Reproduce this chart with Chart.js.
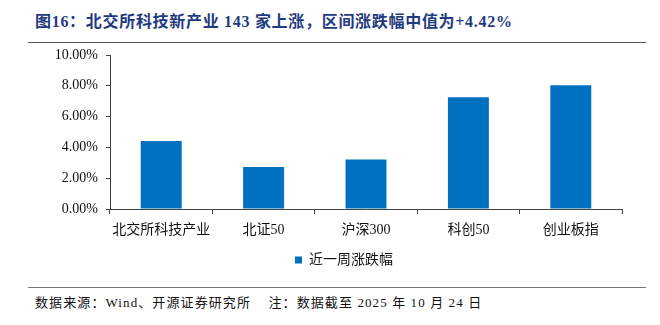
<!DOCTYPE html>
<html>
<head>
<meta charset="utf-8">
<script src="https://cdn.jsdelivr.net/npm/chart.js@4"></script>
<style>
  body { margin: 0; background: #fff; width: 660px; height: 325px; position: relative; overflow: hidden;
         font-family: "Liberation Serif", "Noto Sans CJK SC", serif; }
  #title { position: absolute; left: 35px; top: 8px; font-size: 16px; font-weight: bold; color: #1f3b80; white-space: nowrap; letter-spacing: 0.7px; }
  #topline { position: absolute; left: 28px; top: 42px; width: 618px; height: 1px; border-top: 1px solid #555; }
  #box { position: absolute; left: 0; top: 45px; width: 660px; height: 232px; }
  #botline { position: absolute; left: 28px; top: 287px; width: 618px; border-top: 1px solid #777; }
  #note { position: absolute; left: 35px; top: 292px; font-size: 13px; color: #111; white-space: nowrap; letter-spacing: 1.1px; }
</style>
</head>
<body>
<div id="title">图16：北交所科技新产业 143 家上涨，区间涨跌幅中值为+4.42%</div>
<div id="topline"></div>
<div id="box"><canvas id="chart"></canvas></div>
<div id="botline"></div>
<div id="note">数据来源：Wind、开源证券研究所&nbsp;&nbsp;&nbsp;&nbsp;注：数据截至 2025 年 10 月 24 日</div>
<script>
// 类别与数据
const categories = ['北交所科技产业', '北证50', '沪深300', '科创50', '创业板指'];
const weeklyChange = [4.42, 2.72, 3.22, 7.25, 8.04];
const yTicks = [0, 2, 4, 6, 8, 10];

const fontFamily = '"Liberation Serif", "Noto Sans CJK SC", serif';

// 图例中心稍微往右移，和原图一致
const legendShift = {
    id: 'legendShift',
    afterLayout(chart) {
        const lg = chart.legend;
        const dx = 344 - (lg.left + lg.right) / 2;
        lg.left += dx;
        lg.right += dx;
    }
};

const ctx = document.getElementById('chart').getContext('2d');
const chart = new Chart(ctx, {
    type: 'bar',
    data: {
        labels: categories,
        datasets: [{
            label: '近一周涨跌幅',
            data: weeklyChange,
            backgroundColor: '#0070c0',
            borderWidth: 0,
            categoryPercentage: 1,
            barPercentage: 0.4
        }]
    },
    options: {
        responsive: true,
        maintainAspectRatio: false,
        animation: false,
        layout: { padding: { top: 10, right: 38, left: 0, bottom: 0 } },
        scales: {
            x: {
                afterFit: (scale) => { scale.height = 34; scale.paddingLeft = 0; scale.paddingRight = 0; },
                grid: { offset: true, drawOnChartArea: false, drawTicks: true, tickLength: 5, color: '#444' },
                border: { color: '#444', width: 1 },
                ticks: { color: '#111', font: { family: fontFamily, size: 14 }, padding: 8, maxRotation: 0 }
            },
            y: {
                min: 0,
                max: 10,
                afterBuildTicks: (scale) => { scale.ticks = yTicks.map(v => ({ value: v })); },
                afterFit: (scale) => { scale.width = 110; scale.paddingTop = 0; scale.paddingBottom = 0; },
                grid: { drawOnChartArea: false, drawTicks: true, tickLength: 4, color: '#444' },
                border: { color: '#444', width: 1 },
                ticks: {
                    color: '#111',
                    font: { family: fontFamily, size: 14 },
                    padding: 8,
                    callback: (v) => v.toFixed(2) + '%'
                }
            }
        },
        plugins: {
            legend: {
                position: 'bottom',
                labels: { boxWidth: 7, boxHeight: 7, color: '#111', font: { family: fontFamily, size: 14 }, padding: 10 }
            },
            tooltip: { enabled: false }
        }
    },
    plugins: [legendShift]
});
</script>
</body>
</html>
